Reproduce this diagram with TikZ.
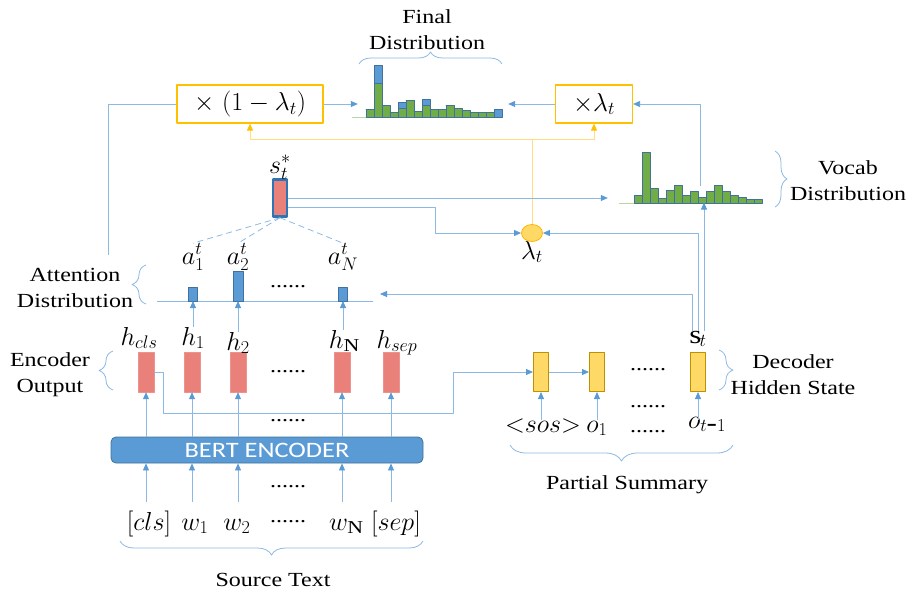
\RequirePackage{fix-cm}
\documentclass[tikz,border=0pt]{standalone}
\usepackage{fontspec}
\setmainfont{Liberation Serif}[FakeStretch=1.2]
\newfontfamily\bertfont{Carlito}[FakeStretch=1.2]
\usetikzlibrary{arrows.meta,decorations.pathreplacing,shapes.geometric}
\definecolor{wireblue}{RGB}{140,185,228}
\definecolor{tipblue}{RGB}{91,155,213}
\definecolor{barblue}{RGB}{91,155,213}
\definecolor{bardark}{RGB}{65,113,156}
\definecolor{bargreen}{RGB}{112,173,71}
\definecolor{encpink}{RGB}{234,128,122}
\definecolor{sstarblue}{RGB}{46,117,182}
\definecolor{decyel}{RGB}{255,217,102}
\definecolor{decedge}{RGB}{191,144,0}
\definecolor{gold}{RGB}{255,192,0}
\definecolor{paleyel}{RGB}{255,222,130}
\tikzset{
  wire/.style={draw=wireblue, line width=0.8pt},
  flow/.style={wire, -{Triangle[length=7pt,width=6pt,color=tipblue]}},
  ylwire/.style={draw=paleyel, line width=0.8pt},
  ylflow/.style={ylwire, -{Triangle[length=7pt,width=6pt,color=gold]}},
  brc/.style={draw=wireblue, line width=0.8pt, decorate, decoration={brace, amplitude=#1}},
  txt/.style={font=\fontsize{20}{26}\selectfont, align=center, inner sep=0pt},
  mlbl/.style={font=\fontsize{26}{30}\selectfont, inner sep=0pt},
  dotlbl/.style={font=\fontsize{20}{24}\selectfont, inner sep=0pt},
  encbox/.style={fill=encpink, draw=encpink!85!white, minimum width=16pt, minimum height=40pt, inner sep=0pt},
  decbox/.style={fill=decyel, draw=decedge, line width=1pt, minimum width=15pt, minimum height=39pt, inner sep=0pt},
  multbox/.style={draw=gold, line width=1.2pt, fill=white, minimum width=146pt, minimum height=38pt, font=\fontsize{26}{30}\selectfont},
  hbar/.style={draw=bardark, line width=0.9pt},
}
\begin{document}
\begin{tikzpicture}[x=1pt, y=-1pt, line join=round]
\useasboundingbox (0,0) rectangle (910,595);

% final distribution
\node[txt] (fdlbl) at (427,30) {Final\\Distribution};
\draw[brc=12] (359,64) -- (502,64);
\node[inner sep=0, minimum width=150pt, minimum height=56pt] (fdist) at (433,90) {};
\draw[bargreen!50!white, line width=1pt] (352,117) -- (502,117);
\foreach \g/\b [count=\i from 0] in {8/8,34/52,12/12,5/5,9/15,17/17,6/6,12/18,8/8,8/8,12/12,9/9,7/7,5/5,5/5,5/5,0/8} {
  \draw[hbar, fill=bargreen] (366+8*\i,117) rectangle ++(8,-\g);
  \draw[hbar, fill=barblue] (366+8*\i,117-\g) rectangle ++(8,\g-\b);
}

% mixing boxes
\node[multbox] (m1) at (250,104) {$\times\ (1-\lambda_t)$};
\node[multbox, minimum width=77pt] (m2) at (594,104) {$\times\lambda_t$};
\draw[flow] (m1.east) -- (m1.east -| fdist.west);
\draw[flow] (m2.west) -- (m2.west -| fdist.east);

% vocab distribution
\node[inner sep=0, minimum width=154pt, minimum height=54pt] (vdist) at (685,176) {};
\draw[bargreen!50!white, line width=1pt] (619,203) -- (762,203);
\foreach \h [count=\i from 0] in {8,51,15,5,13,18,8,12,6,12,18,12,8,6,4,4}
  \draw[hbar, fill=bargreen] (634+8*\i,203) rectangle ++(8,-\h);
\draw[brc=12] (775,151) -- (775,207);
\node[txt] (vlbl) at (848,181) {Vocab\\Distribution};
\coordinate (vtop) at (700,186);
\draw[flow] (vtop) |- (m2.east);

% context vector and switch
\node[draw=sstarblue, line width=2.5pt, fill=encpink, minimum width=14pt, minimum height=37pt, inner sep=0] (sstar) at (280,198) {};
\node[mlbl, anchor=base] (sslbl) at (280,173) {$s_t^*$};
\node[ellipse, fill=decyel, draw=gold!80!orange, line width=0.8pt, minimum width=21pt, minimum height=17pt, inner sep=0] (lam) at (532,233) {};
\node[mlbl, anchor=base] (lamlbl) at (532,259) {$\lambda_t$};
\coordinate (yj) at (532,139);
\draw[ylwire] (lam.north) -- (yj);
\draw[ylflow] (yj) -| (m1.south);
\draw[ylflow] (yj) -| (m2.south);
\draw[flow] (sstar.east) -- (sstar.east -| vdist.west);
\draw[flow] (sstar.east) ++(0,9) -- ++(147,0) |- (lam.west);

% attention distribution
\coordinate (abl) at (157,301);
\coordinate (abr) at (373,301);
\draw[wire] (abl) -- (abr);
\draw[hbar, fill=barblue] (188,301) rectangle (197,287);
\draw[hbar, fill=barblue] (233,301) rectangle (243,271);
\draw[hbar, fill=barblue] (338,301) rectangle (347,287);
\node[mlbl, anchor=base] (a1) at (193,264) {$a_1^t$};
\node[mlbl, anchor=base] (a2) at (238,264) {$a_2^t$};
\node[mlbl, anchor=base] (a3) at (343,264) {$a_N^t$};
\node[dotlbl] (adots) at (288,287) {......};
\foreach \n in {1,2,3}
  \draw[wire, dash pattern=on 6pt off 4pt] (sstar.south) -- (a\n.north);
\draw[brc=14] (146,304) -- (146,265);
\node[txt] (attlbl) at (75,288) {Attention\\Distribution};
\coordinate (aup) at (108,255);
\draw[wire] (aup) |- (m1.west);

% encoder
\foreach \x [count=\i from 0] in {146,192,238,342,391}
  \node[encbox] (e\i) at (\x,372) {};
\node[mlbl, anchor=base] (h0) at (139,345) {$h_{cls}$};
\node[mlbl, anchor=base] (h1) at (193,345) {$h_1$};
\node[mlbl, anchor=base] (h2) at (238,350) {$h_2$};
\node[mlbl, anchor=base] (h3) at (343,348) {$h_{\mathrm{N}}$};
\node[mlbl, anchor=base] (h4) at (397,348) {$h_{sep}$};
\foreach \n in {1,2,3}
  \draw[flow] (h\n.north) -- (h\n.north |- abl);
\node[dotlbl] (edots) at (288,372) {......};
\draw[brc=14] (113,390) -- (113,351);
\node[txt] (enclbl) at (50,375) {Encoder\\Output};

\node[rounded corners=5pt, fill=barblue, draw=bardark, line width=0.8pt, minimum width=312pt, minimum height=26pt, inner sep=0pt, text=white, font=\bertfont\fontsize{22}{24}\selectfont] (bert) at (267,450) {BERT ENCODER};
\foreach \n in {0,...,4}
  \draw[flow] (e\n |- bert.north) -- (e\n.south);
\node[dotlbl] (mdots) at (288,421) {......};

% source text
\coordinate (tokline) at (0,502);
\node[mlbl, anchor=base] (t0) at (149,530) {$[cls]$};
\node[mlbl, anchor=base] (t1) at (195,530) {$w_1$};
\node[mlbl, anchor=base] (t2) at (237,530) {$w_2$};
\node[mlbl, anchor=base] (t3) at (345,530) {$w_{\mathrm{N}}$};
\node[mlbl, anchor=base] (t4) at (396,530) {$[sep]$};
\foreach \n in {0,...,4}
  \draw[flow] (e\n |- tokline) -- (e\n |- bert.south);
\node[dotlbl] (bdots) at (288,487) {......};
\node[dotlbl] (tdots) at (288,522) {......};
\draw[brc=14] (423,541) -- (120,541);
\node[txt] (srclbl) at (273,580) {Source Text};

% decoder
\node[decbox] (d0) at (541,372) {};
\node[decbox] (d1) at (597,372) {};
\node[decbox] (d2) at (698,372) {};
\draw[flow] (d0.east) -- (d1.west);
\draw[flow] (e0.east) -- ++(9,0) -- ++(0,41) -- ++(290,0) |- (d0.west);
\node[dotlbl] (ddots1) at (648,370) {......};
\node[dotlbl] (ddots2) at (648,407) {......};
\node[dotlbl] (ddots3) at (648,432) {......};
\node[mlbl, anchor=base] (s0) at (543,432) {${<}sos{>}$};
\node[mlbl, anchor=base] (s1) at (597,432) {$o_1$};
\node[mlbl, anchor=base] (s2) at (707,428) {$o_{t\textrm{-}1}$};
\coordinate (decin) at (0,420);
\foreach \n in {0,1,2}
  \draw[flow] (d\n |- decin) -- (d\n.south);
\node[mlbl, anchor=base] (st) at (698,343) {$\mathrm{s}_t$};
\coordinate (aarr) at (380,294);
\draw[flow] ([xshift=-6pt]st.north) |- (aarr);
\draw[flow] (st.north) |- (lam.east);
\draw[flow] ([xshift=6pt]st.north) -- ++(0,-128);
\draw[brc=14] (719,350) -- (719,390);
\node[txt] (declbl) at (793,375) {Decoder\\Hidden State};
\draw[brc=16] (733,445) -- (510,445);
\node[txt] (psumlbl) at (627,485) {Partial Summary};
\end{tikzpicture}
\end{document}
